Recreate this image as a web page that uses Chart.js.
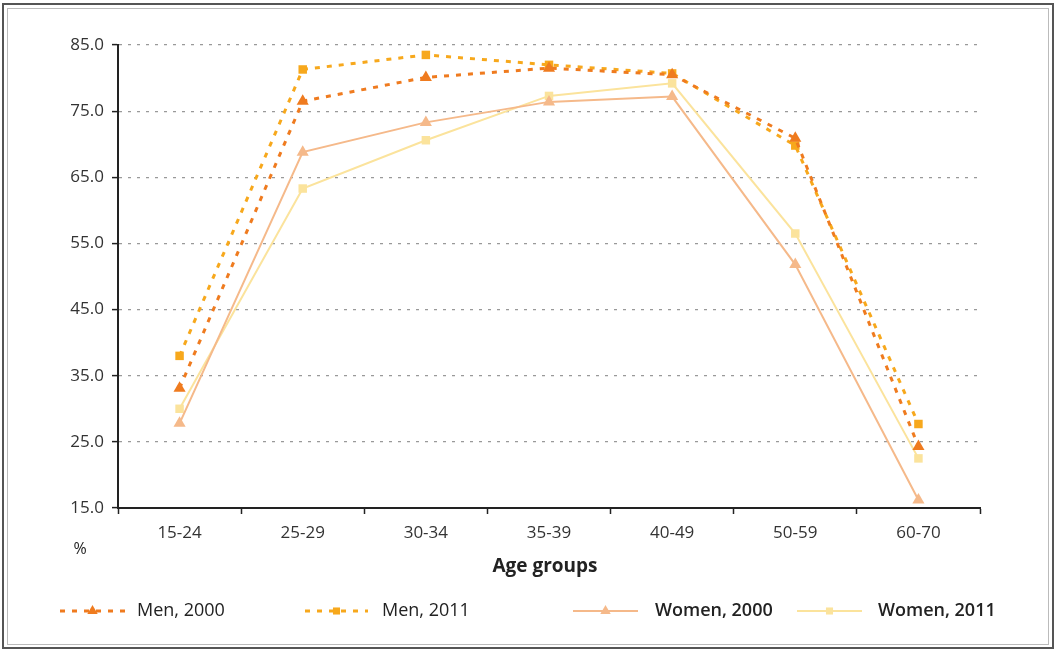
<!DOCTYPE html>
<html>
<head>
<meta charset="utf-8">
<script src="https://cdn.jsdelivr.net/npm/chart.js@4"></script>
<style>
  html, body { margin: 0; padding: 0; background: #fff; }
  #wrap { width: 1057px; height: 651px; position: relative; }
</style>
</head>
<body>
<div id="wrap"><canvas id="myChart" width="1057" height="651"></canvas></div>
<script>
// data
const ageGroups = ["15-24", "25-29", "30-34", "35-39", "40-49", "50-59", "60-70"];
const men2000 = [33.1, 76.5, 80.1, 81.5, 80.5, 70.9, 24.3];
const men2011 = [38.0, 81.3, 83.5, 82.0, 80.7, 69.8, 27.7];
const women2000 = [27.8, 68.8, 73.3, 76.4, 77.2, 51.8, 16.2];
const women2011 = [30.0, 63.3, 70.6, 77.3, 79.2, 56.5, 22.5];
const yTicks = [15, 25, 35, 45, 55, 65, 75, 85];

const FONT = "'Open Sans', 'Noto Sans', sans-serif";

const seriesStyle = [
  { label: "Men, 2000", data: men2000, color: "#ef7b1f", dash: [5, 7], point: "triangle", bold: false },
  { label: "Men, 2011", data: men2011, color: "#f7a81c", dash: [5, 7], point: "rect", bold: false },
  { label: "Women, 2000", data: women2000, color: "#f5b98a", dash: [], point: "triangle", bold: true },
  { label: "Women, 2011", data: women2011, color: "#fbe39c", dash: [], point: "rect", bold: true }
];

const datasets = seriesStyle.map((s, i) => ({
  label: s.label,
  data: s.data,
  borderColor: s.color,
  backgroundColor: s.color,
  borderWidth: s.dash.length ? 3 : 2,
  borderDash: s.dash,
  pointStyle: s.point,
  pointRadius: s.point === "rect" ? 6 : 7,
  pointBorderWidth: 0,
  tension: 0,
  order: i
}));

// legend placement (line start, line end, text start)
const legendPos = [
  { x1: 60, x2: 125, tx: 137 },
  { x1: 305, x2: 368, tx: 382 },
  { x1: 573, x2: 638, tx: 655 },
  { x1: 797, x2: 862, tx: 878 }
];

// frame, "%" label, axis title and the legend
const extras = {
  id: "extras",
  beforeDraw(chart) {
    const c = chart.ctx;
    c.save();
    c.fillStyle = "#fff";
    c.fillRect(0, 0, chart.width, chart.height);
    c.lineWidth = 2;
    c.strokeStyle = "#555";
    c.strokeRect(3, 4, 1050, 644);
    c.lineWidth = 1;
    c.strokeStyle = "#bbb";
    c.strokeRect(7.5, 8.5, 1041, 636);
    c.restore();
  },
  afterDraw(chart) {
    const c = chart.ctx;
    c.save();
    c.fillStyle = "#222";
    c.font = "16px " + FONT;
    c.textAlign = "center";
    c.textBaseline = "middle";
    c.fillText("%", 80, 549);
    c.font = "bold 19px " + FONT;
    c.fillText("Age groups", 545, 567);

    const ly = 611;
    seriesStyle.forEach((s, i) => {
      const p = legendPos[i];
      c.beginPath();
      c.strokeStyle = s.color;
      c.lineWidth = s.dash.length ? 3 : 2;
      c.setLineDash(s.dash);
      c.moveTo(p.x1, ly);
      c.lineTo(p.x2, ly);
      c.stroke();
      c.setLineDash([]);
      c.fillStyle = s.color;
      c.strokeStyle = s.color;
      Chart.helpers.drawPoint(c, {
        pointStyle: s.point,
        radius: s.point === "rect" ? 5 : 6,
        rotation: 0,
        borderWidth: 0
      }, (p.x1 + p.x2) / 2, ly);
      c.fillStyle = "#222";
      c.textAlign = "left";
      c.font = (s.bold ? "600 " : "") + "18px " + FONT;
      c.fillText(s.label, p.tx, ly);
    });
    c.restore();
  }
};

new Chart(document.getElementById("myChart").getContext("2d"), {
  type: "line",
  data: { labels: ageGroups, datasets: datasets },
  plugins: [extras],
  options: {
    responsive: false,
    animation: false,
    layout: { padding: { left: 0, right: 77, top: 45, bottom: 0 } },
    plugins: {
      legend: { display: false },
      tooltip: { enabled: false }
    },
    scales: {
      x: {
        offset: true,
        grid: {
          offset: true,
          drawOnChartArea: false,
          drawTicks: true,
          tickLength: 6,
          tickColor: "#222",
          tickWidth: 1.5
        },
        border: { color: "#222", width: 2 },
        ticks: {
          color: "#333",
          padding: 9,
          font: { family: FONT, size: 17 },
          maxRotation: 0
        },
        afterFit(scale) { scale.height = 143; }
      },
      y: {
        min: 15,
        max: 85,
        afterBuildTicks(scale) {
          scale.ticks = yTicks.map(v => ({ value: v }));
        },
        grid: {
          color: "#999",
          lineWidth: 1.2,
          tickColor: "#222",
          tickLength: 6,
          tickWidth: 1.5,
          drawTicks: true,
          tickBorderDash: []
        },
        border: { color: "#222", width: 2, dash: [3, 6] },
        ticks: {
          color: "#333",
          padding: 8,
          font: { family: FONT, size: 17 },
          callback: v => v.toFixed(1)
        },
        afterFit(scale) { scale.width = 118; }
      }
    }
  }
});
</script>
</body>
</html>
